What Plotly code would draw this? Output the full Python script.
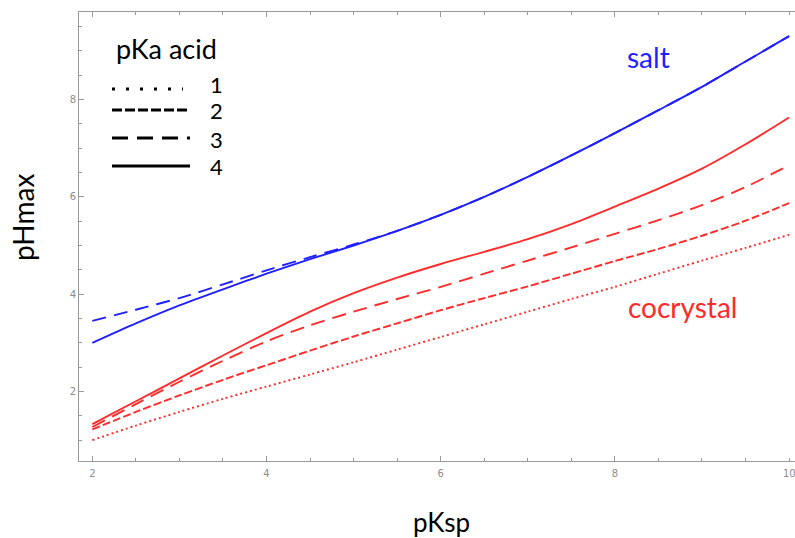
import plotly.graph_objects as go

# pKsp values
pKsp = [2, 2.5, 3, 3.5, 4, 4.5, 5, 5.5, 6, 6.5, 7, 7.5, 8, 8.5, 9, 9.5, 10]

# salt curves (blue)
salt_pka4 = [3.0, 3.40, 3.77, 4.10, 4.42, 4.72, 5.00, 5.30, 5.63, 6.00, 6.41, 6.85, 7.31, 7.78, 8.26, 8.78, 9.30]
salt_pka3 = [3.45, 3.68, 3.92, 4.20, 4.49, 4.76, 5.02, 5.30, 5.63, 6.00, 6.41, 6.85, 7.31, 7.78, 8.26, 8.78, 9.30]

# cocrystal curves (red)
co_pka1 = [1.00, 1.30, 1.58, 1.85, 2.10, 2.35, 2.60, 2.86, 3.12, 3.38, 3.64, 3.90, 4.15, 4.42, 4.69, 4.95, 5.22]
co_pka2 = [1.22, 1.58, 1.92, 2.24, 2.54, 2.84, 3.13, 3.40, 3.67, 3.92, 4.16, 4.42, 4.68, 4.93, 5.20, 5.51, 5.87]
co_pka3 = [1.27, 1.74, 2.20, 2.63, 3.03, 3.36, 3.64, 3.90, 4.15, 4.42, 4.69, 4.96, 5.24, 5.52, 5.83, 6.20, 6.65]
co_pka4 = [1.33, 1.80, 2.27, 2.74, 3.20, 3.64, 4.02, 4.34, 4.62, 4.87, 5.13, 5.44, 5.80, 6.17, 6.58, 7.08, 7.63]

legend_labels = ["1", "2", "3", "4"]

BLUE = "#1f1fff"
RED = "#ff2a2a"
DOT = "2px,3px"
SHORT = "8px,3px"
LONG = "14px,8px"

fig = go.Figure()

def add(y, color, dash):
    fig.add_trace(go.Scatter(x=pKsp, y=y, mode="lines",
                             line=dict(color=color, width=1.9, dash=dash, shape="spline", smoothing=0.8),
                             showlegend=False, hoverinfo="skip"))

add(co_pka1, RED, DOT)
add(co_pka2, RED, SHORT)
add(co_pka3, RED, LONG)
add(co_pka4, RED, "solid")
add(salt_pka3, BLUE, LONG)
add(salt_pka4, BLUE, "solid")

W, H = 795, 538
L, R, T, B = 79, 0, 12, 77
pw, ph = W - L - R, H - T - B

def px2paper(px, py):
    return (px - L) / pw, (H - B - py) / ph

FONT = "Lato"

# legend (black samples)
leg_rows = [(89, "3px,11px", 183, 84), (110, "10px,3px", 190, 111), (138, "16px,9px", 190, 139), (166, "solid", 190, 166)]
for (py, dash, xend, ny), lab in zip(leg_rows, legend_labels):
    x0, y0 = px2paper(112, py)
    x1, _ = px2paper(xend, py)
    fig.add_shape(type="line", xref="paper", yref="paper", x0=x0, x1=x1, y0=y0, y1=y0,
                  line=dict(color="black", width=3.2, dash=dash))
    tx, ty = px2paper(216, ny)
    fig.add_annotation(xref="paper", yref="paper", x=tx, y=ty, text=lab, showarrow=False,
                       font=dict(family=FONT, size=22, color="black"), xanchor="center", yanchor="middle")

tx, ty = px2paper(166, 48)
fig.add_annotation(xref="paper", yref="paper", x=tx, y=ty, text="pKa acid", showarrow=False,
                   font=dict(family=FONT, size=27, color="black"), xanchor="center", yanchor="middle")

fig.add_annotation(x=8.39, y=8.87, text="salt", showarrow=False,
                   font=dict(family=FONT, size=28, color=BLUE), xanchor="center", yanchor="middle")
fig.add_annotation(x=8.78, y=3.74, text="cocrystal", showarrow=False,
                   font=dict(family=FONT, size=28, color=RED), xanchor="center", yanchor="middle")

# axis titles
tx, ty = px2paper(441, 522)
fig.add_annotation(xref="paper", yref="paper", x=tx, y=ty, text="pKsp", showarrow=False,
                   font=dict(family=FONT, size=26, color="black"), xanchor="center", yanchor="middle")
tx, ty = px2paper(23, 218)
fig.add_annotation(xref="paper", yref="paper", x=tx, y=ty, text="pHmax", showarrow=False, textangle=-90,
                   font=dict(family=FONT, size=28, color="black"), xanchor="center", yanchor="middle")

axcol = "#9a9a9a"
tickfont = dict(family="DejaVu Sans", size=10, color="#8c8c8c")

# last x tick label sits at the figure edge
fig.add_annotation(x=10, y=0, yref="paper", yshift=-12, text="10", showarrow=False,
                   font=tickfont, xanchor="center", yanchor="middle")

fig.update_xaxes(range=[1.847, 10.068], tickvals=[2, 4, 6, 8], showgrid=False, zeroline=False,
                 showline=True, linecolor=axcol, linewidth=1, mirror="ticks",
                 ticks="inside", ticklen=5, tickcolor=axcol, tickfont=tickfont, ticklabelstandoff=3,
                 minor=dict(tickvals=[2.5, 3, 3.5, 4.5, 5, 5.5, 6.5, 7, 7.5, 8.5, 9, 9.5, 10],
                            ticks="inside", ticklen=3, tickcolor=axcol))
fig.update_yaxes(range=[0.572, 9.797], tickvals=[2, 4, 6, 8], showgrid=False, zeroline=False,
                 showline=True, linecolor=axcol, linewidth=1, mirror=False,
                 ticks="inside", ticklen=5, tickcolor=axcol, tickfont=tickfont,
                 minor=dict(tickvals=[1, 1.5, 2.5, 3, 3.5, 4.5, 5, 5.5, 6.5, 7, 7.5, 8.5, 9, 9.5],
                            ticks="inside", ticklen=3, tickcolor=axcol))

fig.update_layout(width=W, height=H, margin=dict(l=L, r=R, t=T, b=B, autoexpand=False),
                  plot_bgcolor="white", paper_bgcolor="white", showlegend=False)

fig.write_html("out.html")
